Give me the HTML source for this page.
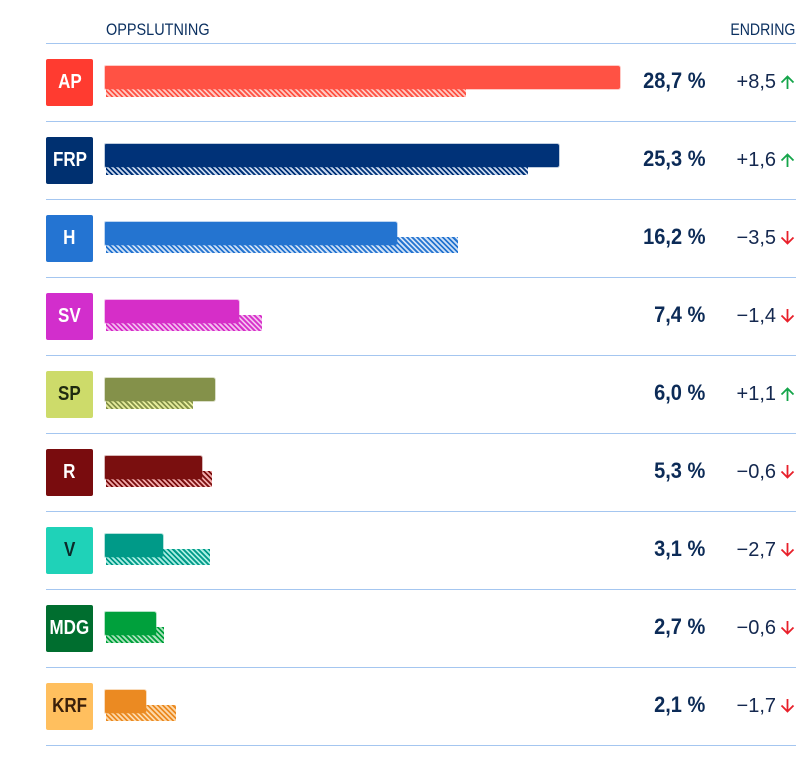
<!DOCTYPE html>
<html><head><meta charset="utf-8"><style>
*{margin:0;padding:0;box-sizing:border-box}
html,body{width:812px;height:757px;background:#fff;overflow:hidden;font-family:"Liberation Sans",sans-serif}
.line{position:absolute;left:46px;width:750px;height:1px;background:#a4c6f0}
.hdr{position:absolute;font-size:17px;line-height:20px;color:#0b3060;white-space:nowrap}
.badge{position:absolute;left:46px;width:47px;height:47px;border-radius:2px;text-align:center;font-weight:bold;font-size:20px;line-height:47px}
.badge span{display:inline-block;transform:scaleX(0.85)}
.bar{position:absolute;left:105px;height:23px;border-radius:1px 2px 2px 1px}
.hatch{position:absolute;left:106px;height:16px}
.pct{position:absolute;right:107px;font-weight:bold;font-size:22px;line-height:24px;color:#0c2b57;white-space:nowrap;transform:scaleX(0.91);transform-origin:right}
.chg{position:absolute;right:36px;font-size:20px;line-height:24px;color:#14284f;white-space:nowrap}
.arr{position:absolute;left:780px;width:15px;height:14px}
</style></head><body>

<div class="hdr" style="left:106px;top:20px"><span style="display:inline-block;transform:scaleX(0.85);transform-origin:left">OPPSLUTNING</span></div>
<div class="hdr" style="right:17px;top:20px"><span style="display:inline-block;transform:scaleX(0.83);transform-origin:right">ENDRING</span></div>

<div class="line" style="top:43px"></div>
<div class="line" style="top:121px"></div>
<div class="line" style="top:199px"></div>
<div class="line" style="top:277px"></div>
<div class="line" style="top:355px"></div>
<div class="line" style="top:433px"></div>
<div class="line" style="top:511px"></div>
<div class="line" style="top:589px"></div>
<div class="line" style="top:667px"></div>
<div class="line" style="top:745px"></div>

<!-- Row 0 AP -->
<div class="badge" style="top:59px;background:#ff3b30;color:#fff"><span>AP</span></div>
<div class="hatch" style="top:81px;width:360px;background:repeating-linear-gradient(45deg,#ff5244 0 1.8px,#ffcbc4 1.8px 3.6px)"></div>
<div class="bar" style="top:66px;width:515px;background:#ff5244;box-shadow:0 0 0 1px rgba(255,82,68,0.3)"></div>
<div class="pct" style="top:69px">28,7 %</div>
<div class="chg" style="top:70px">+8,5</div>
<svg class="arr" style="top:75px" viewBox="0 0 15 14"><path d="M7.5 14V1.5M1.5 7.5L7.5 1.5L13.5 7.5" fill="none" stroke="#14a54a" stroke-width="1.8"/></svg>

<!-- Row 1 FRP -->
<div class="badge" style="top:137px;background:#003070;color:#fff"><span>FRP</span></div>
<div class="hatch" style="top:159px;width:422px;background:repeating-linear-gradient(45deg,#003278 0 1.8px,#c9d8ee 1.8px 3.6px)"></div>
<div class="bar" style="top:144px;width:454px;background:#003278;box-shadow:0 0 0 1px rgba(0,50,120,0.25)"></div>
<div class="pct" style="top:147px">25,3 %</div>
<div class="chg" style="top:148px">+1,6</div>
<svg class="arr" style="top:153px" viewBox="0 0 15 14"><path d="M7.5 14V1.5M1.5 7.5L7.5 1.5L13.5 7.5" fill="none" stroke="#14a54a" stroke-width="1.8"/></svg>

<!-- Row 2 H -->
<div class="badge" style="top:215px;background:#2474d2;color:#fff"><span>H</span></div>
<div class="hatch" style="top:237px;width:352px;background:repeating-linear-gradient(45deg,#2474d0 0 1.8px,#cfe1f7 1.8px 3.6px)"></div>
<div class="bar" style="top:222px;width:292px;background:#2474d0;box-shadow:0 0 0 1px rgba(36,116,208,0.3)"></div>
<div class="pct" style="top:225px">16,2 %</div>
<div class="chg" style="top:226px">−3,5</div>
<svg class="arr" style="top:231px" viewBox="0 0 15 14"><path d="M7.5 0V12.5M1.5 6.5L7.5 12.5L13.5 6.5" fill="none" stroke="#e8202a" stroke-width="1.8"/></svg>

<!-- Row 3 SV -->
<div class="badge" style="top:293px;background:#d22ecc;color:#fff"><span>SV</span></div>
<div class="hatch" style="top:315px;width:156px;background:repeating-linear-gradient(45deg,#d62ec8 0 1.8px,#f3bcef 1.8px 3.6px)"></div>
<div class="bar" style="top:300px;width:134px;background:#d62ec8;box-shadow:0 0 0 1px rgba(214,46,200,0.3)"></div>
<div class="pct" style="top:303px">7,4 %</div>
<div class="chg" style="top:304px">−1,4</div>
<svg class="arr" style="top:309px" viewBox="0 0 15 14"><path d="M7.5 0V12.5M1.5 6.5L7.5 12.5L13.5 6.5" fill="none" stroke="#e8202a" stroke-width="1.8"/></svg>

<!-- Row 4 SP -->
<div class="badge" style="top:371px;background:#cddb6a;color:#1f2a10"><span>SP</span></div>
<div class="hatch" style="top:393px;width:87px;background:repeating-linear-gradient(45deg,#84914a 0 1.8px,#e6ec9c 1.8px 3.6px)"></div>
<div class="bar" style="top:378px;width:110px;background:#84914a;box-shadow:0 0 0 1px rgba(132,145,74,0.3)"></div>
<div class="pct" style="top:381px">6,0 %</div>
<div class="chg" style="top:382px">+1,1</div>
<svg class="arr" style="top:387px" viewBox="0 0 15 14"><path d="M7.5 14V1.5M1.5 7.5L7.5 1.5L13.5 7.5" fill="none" stroke="#14a54a" stroke-width="1.8"/></svg>

<!-- Row 5 R -->
<div class="badge" style="top:449px;background:#790c0e;color:#fff"><span>R</span></div>
<div class="hatch" style="top:471px;width:106px;background:repeating-linear-gradient(45deg,#7a0f0f 0 1.8px,#f0a9a9 1.8px 3.6px)"></div>
<div class="bar" style="top:456px;width:97px;background:#7a0f0f;box-shadow:0 0 0 1px rgba(122,15,15,0.3)"></div>
<div class="pct" style="top:459px">5,3 %</div>
<div class="chg" style="top:460px">−0,6</div>
<svg class="arr" style="top:465px" viewBox="0 0 15 14"><path d="M7.5 0V12.5M1.5 6.5L7.5 12.5L13.5 6.5" fill="none" stroke="#e8202a" stroke-width="1.8"/></svg>

<!-- Row 6 V -->
<div class="badge" style="top:527px;background:#1fd2b8;color:#0b2a2a"><span>V</span></div>
<div class="hatch" style="top:549px;width:104px;background:repeating-linear-gradient(45deg,#009a88 0 1.8px,#a9eee2 1.8px 3.6px)"></div>
<div class="bar" style="top:534px;width:58px;background:#009a88;box-shadow:0 0 0 1px rgba(0,154,136,0.3)"></div>
<div class="pct" style="top:537px">3,1 %</div>
<div class="chg" style="top:538px">−2,7</div>
<svg class="arr" style="top:543px" viewBox="0 0 15 14"><path d="M7.5 0V12.5M1.5 6.5L7.5 12.5L13.5 6.5" fill="none" stroke="#e8202a" stroke-width="1.8"/></svg>

<!-- Row 7 MDG -->
<div class="badge" style="top:605px;background:#006e2f;color:#fff"><span>MDG</span></div>
<div class="hatch" style="top:627px;width:58px;background:repeating-linear-gradient(45deg,#00a03c 0 1.8px,#aae2bb 1.8px 3.6px)"></div>
<div class="bar" style="top:612px;width:51px;background:#00a03c;box-shadow:0 0 0 1px rgba(0,160,60,0.3)"></div>
<div class="pct" style="top:615px">2,7 %</div>
<div class="chg" style="top:616px">−0,6</div>
<svg class="arr" style="top:621px" viewBox="0 0 15 14"><path d="M7.5 0V12.5M1.5 6.5L7.5 12.5L13.5 6.5" fill="none" stroke="#e8202a" stroke-width="1.8"/></svg>

<!-- Row 8 KRF -->
<div class="badge" style="top:683px;background:#ffbf5e;color:#3a1f0a"><span>KRF</span></div>
<div class="hatch" style="top:705px;width:70px;background:repeating-linear-gradient(45deg,#eb8a22 0 1.8px,#fdd9aa 1.8px 3.6px)"></div>
<div class="bar" style="top:690px;width:41px;background:#eb8a22;box-shadow:0 0 0 1px rgba(235,138,34,0.3)"></div>
<div class="pct" style="top:693px">2,1 %</div>
<div class="chg" style="top:694px">−1,7</div>
<svg class="arr" style="top:699px" viewBox="0 0 15 14"><path d="M7.5 0V12.5M1.5 6.5L7.5 12.5L13.5 6.5" fill="none" stroke="#e8202a" stroke-width="1.8"/></svg>

</body></html>
